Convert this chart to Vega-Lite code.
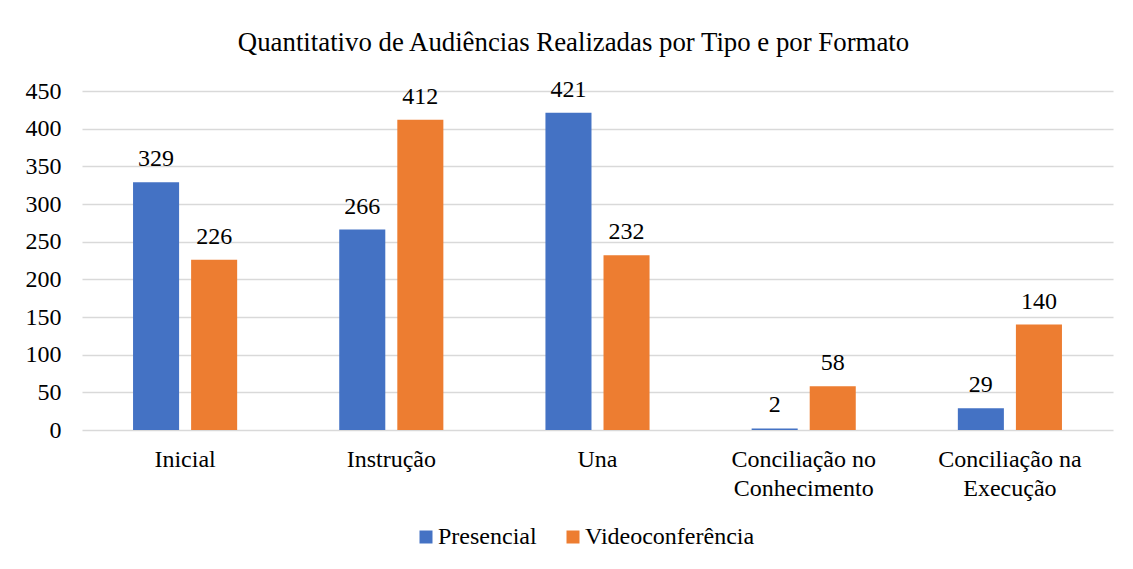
{
  "$schema": "https://vega.github.io/schema/vega-lite/v6.json",
  "width": 1031,
  "height": 339,
  "autosize": {"type": "none"},
  "padding": {"left": 82, "top": 91, "right": 20, "bottom": 139},
  "background": "white",
  "title": {
    "text": "Quantitativo de Audiências Realizadas por Tipo e por Formato",
    "font": "Liberation Serif",
    "fontSize": 26.8,
    "fontWeight": "normal",
    "color": "#000000",
    "anchor": "middle",
    "dx": -24,
    "baseline": "alphabetic",
    "offset": 0
  },
  "data": {
    "values": [
      {"tipo": "Inicial", "formato": "Presencial", "valor": 329},
      {"tipo": "Inicial", "formato": "Videoconferência", "valor": 226},
      {"tipo": "Instrução", "formato": "Presencial", "valor": 266},
      {"tipo": "Instrução", "formato": "Videoconferência", "valor": 412},
      {"tipo": "Una", "formato": "Presencial", "valor": 421},
      {"tipo": "Una", "formato": "Videoconferência", "valor": 232},
      {"tipo": "Conciliação no Conhecimento", "formato": "Presencial", "valor": 2},
      {"tipo": "Conciliação no Conhecimento", "formato": "Videoconferência", "valor": 58},
      {"tipo": "Conciliação na Execução", "formato": "Presencial", "valor": 29},
      {"tipo": "Conciliação na Execução", "formato": "Videoconferência", "valor": 140}
    ]
  },
  "encoding": {
    "x": {
      "field": "tipo",
      "type": "nominal",
      "sort": null,
      "scale": {"paddingInner": 0, "paddingOuter": 0},
      "axis": {
        "title": null,
        "labelAngle": 0,
        "domain": false,
        "ticks": false,
        "labelPadding": 17,
        "labelFont": "Liberation Serif",
        "labelFontSize": 24,
        "labelColor": "#000000",
        "labelLineHeight": 29,
        "labelLimit": 400,
        "labelExpr": "datum.value == 'Conciliação no Conhecimento' ? ['Conciliação no', 'Conhecimento'] : datum.value == 'Conciliação na Execução' ? ['Conciliação na', 'Execução'] : datum.value"
      }
    },
    "xOffset": {
      "field": "formato",
      "type": "nominal",
      "scale": {"paddingInner": 0.207, "paddingOuter": 0.879}
    },
    "y": {
      "field": "valor",
      "type": "quantitative",
      "scale": {"domain": [0, 450], "nice": false},
      "axis": {
        "title": null,
        "values": [0, 50, 100, 150, 200, 250, 300, 350, 400, 450],
        "domain": false,
        "ticks": false,
        "labelPadding": 21,
        "labelFont": "Liberation Serif",
        "labelFontSize": 24,
        "labelColor": "#000000",
        "gridColor": "#d9d9d9",
        "gridWidth": 1.5
      }
    }
  },
  "layer": [
    {
      "mark": {"type": "bar"},
      "encoding": {
        "color": {
          "field": "formato",
          "type": "nominal",
          "scale": {"domain": ["Presencial", "Videoconferência"], "range": ["#4472C4", "#ED7D31"]},
          "legend": {
            "title": null,
            "orient": "none",
            "legendX": 332,
            "legendY": 434,
            "direction": "horizontal",
            "symbolType": "square",
            "symbolSize": 169,
            "symbolStrokeWidth": 0,
            "labelFont": "Liberation Serif",
            "labelFontSize": 24,
            "labelColor": "#000000",
            "labelOffset": 0,
            "labelLimit": 400,
            "columnPadding": 24
          }
        }
      }
    },
    {
      "mark": {
        "type": "text",
        "baseline": "alphabetic",
        "dy": -16,
        "font": "Liberation Serif",
        "fontSize": 24,
        "color": "#000000"
      },
      "encoding": {
        "text": {"field": "valor", "type": "quantitative"}
      }
    }
  ],
  "config": {
    "font": "Liberation Serif",
    "view": {"stroke": null}
  }
}
